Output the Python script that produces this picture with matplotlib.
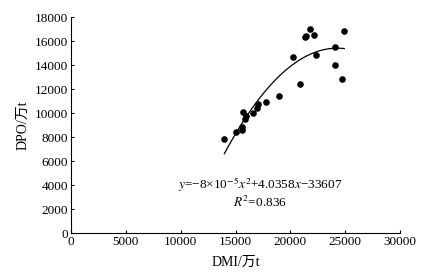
import numpy as np
import matplotlib.pyplot as plt

plt.rcParams['font.family'] = ['Liberation Serif', 'Noto Sans CJK SC']
plt.rcParams['mathtext.fontset'] = 'stix'

dmi = [13980, 15070, 15590, 15560, 15650, 15890, 15980, 16620, 16960, 17080,
       17810, 18940, 20270, 20910, 21370, 21430, 21770, 22190, 22370, 24040,
       24100, 24680, 24920]
dpo = [7850, 8400, 8570, 8850, 10060, 9510, 9785, 10010, 10390, 10720,
       10920, 11420, 14700, 12380, 16310, 16440, 16970, 16470, 14840, 15530,
       13990, 12830, 16860]

fig = plt.figure(figsize=(4.21, 2.77), dpi=100)
ax = fig.add_axes([71/421, 1 - 233/277, 329/421, 216/277])

ax.scatter(dmi, dpo, s=14, color='black', zorder=3)

coef = np.polyfit(dmi, dpo, 2)
xs = np.linspace(min(dmi), max(dmi), 200)
ax.plot(xs, np.polyval(coef, xs), color='black', lw=0.9)

ax.set_xlim(0, 30000)
ax.set_ylim(0, 18000)
ax.set_xticks(range(0, 30001, 5000))
ax.set_yticks(range(0, 18001, 2000))
ax.tick_params(direction='in', length=2.5, width=0.8, labelsize=9.5, pad=2)
for s in ['top', 'right']:
    ax.spines[s].set_visible(False)
ax.set_xlabel('DMI/万t', fontsize=10, labelpad=6)
ax.set_ylabel('DPO/万t', fontsize=10, labelpad=4)

ax.text(0.575, 0.225, r'$y$=−8×10$^{-5}$$x^2$+4.0358$x$−33607', transform=ax.transAxes,
        ha='center', va='center', fontsize=9.5)
ax.text(0.575, 0.14, r'$R^2$=0.836', transform=ax.transAxes,
        ha='center', va='center', fontsize=9.5)

fig.savefig('out.png', dpi=100)
